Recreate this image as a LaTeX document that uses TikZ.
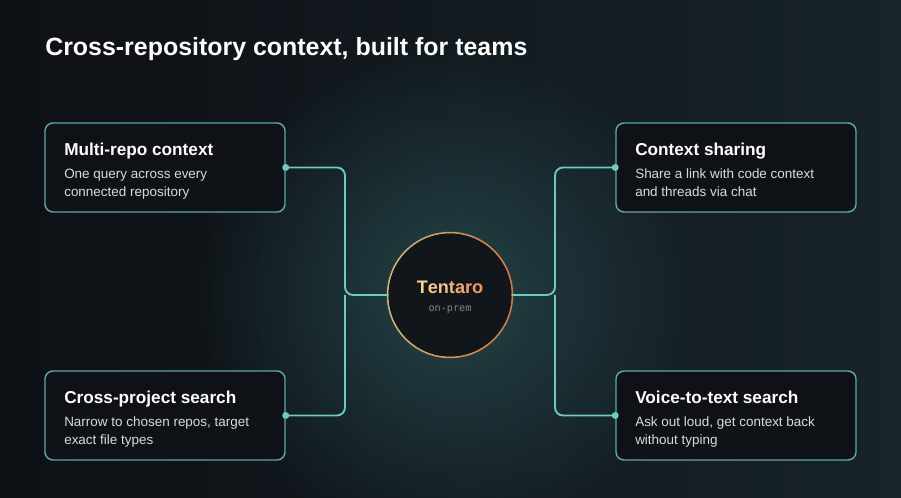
\documentclass[tikz,border=0pt]{standalone}
\usepackage{fontspec}
\setmainfont{Liberation Sans}
\setmonofont{DejaVu Sans Mono}
\usetikzlibrary{fadings}
\definecolor{bgdark}{HTML}{0D1014}
\definecolor{bgteal}{HTML}{18232A}
\definecolor{glow}{HTML}{2C5A5C}
\definecolor{cardfill}{HTML}{0E1216}
\definecolor{cardline}{HTML}{5AA9A4}
\definecolor{linkcol}{HTML}{6ECBC4}
\definecolor{hubfill}{HTML}{10161A}
\definecolor{hubleft}{HTML}{D2B27A}
\definecolor{hubright}{HTML}{D9773C}
\definecolor{nameyel}{HTML}{F6D68C}
\definecolor{nameorg}{HTML}{F28F58}
\definecolor{subtxt}{HTML}{D7DBDF}
\definecolor{monotxt}{HTML}{7F868D}
\tikzfading[name=glowfade, inner color=transparent!35, outer color=transparent!100]
\begin{document}
\begin{tikzpicture}[x=0.75pt, y=-0.75pt,
    card/.style={rectangle, draw=cardline, line width=1.1pt, fill=cardfill,
      rounded corners=6pt, minimum width=180pt, minimum height=66.75pt},
    cardtitle/.style={anchor=base west, inner sep=0pt, text=white,
      font=\fontsize{12.9}{15}\selectfont\bfseries},
    carddesc/.style={anchor=base west, inner sep=0pt, text=subtxt, align=left,
      font=\fontsize{10.1}{13.5}\selectfont},
    link/.style={draw=linkcol, line width=1.4pt, rounded corners=6pt},
    dot/.style={circle, fill=linkcol, inner sep=0pt, minimum size=5.2pt}]
    \useasboundingbox (0,0) rectangle (901,498);
    % background and glow
    \shade[left color=bgdark, right color=bgteal] (0,0) rectangle (901,498);
    \fill[glow, path fading=glowfade] (450,295) circle (250);
    \node[font=\fontsize{18.7}{22}\selectfont\bfseries, text=white, anchor=base west, inner sep=0pt]
      (title) at (45,56) {Cross-repository context, built for teams};
    % cards
    \node[card] (b1) at (165,167.5) {};
    \node[card] (b2) at (165,415.5) {};
    \node[card] (b3) at (736,167.5) {};
    \node[card] (b4) at (736,415.5) {};
    \node[cardtitle] (t1) at (64,156) {Multi-repo context};
    \node[carddesc] (d1) at (64,197) {One query across every\\connected repository};
    \node[cardtitle] (t2) at (64,404) {Cross-project search};
    \node[carddesc] (d2) at (64,445) {Narrow to chosen repos, target\\exact file types};
    \node[cardtitle] (t3) at (635,156) {Context sharing};
    \node[carddesc] (d3) at (635,197) {Share a link with code context\\and threads via chat};
    \node[cardtitle] (t4) at (635,404) {Voice-to-text search};
    \node[carddesc] (d4) at (635,445) {Ask out loud, get context back\\without typing};
    % hub
    \coordinate (hc) at (450,295);
    \shade[left color=hubleft, right color=hubright, even odd rule]
      (hc) circle (63.2) circle (61.5);
    \node[circle, fill=hubfill, minimum size=92.2pt, inner sep=0pt] (hub) at (hc) {};
    \node[font=\fontsize{13.6}{16}\selectfont\bfseries, inner sep=0pt] (name) at (450,287)
      {\textcolor{nameyel!100!nameorg}{T}\textcolor{nameyel!85!nameorg}{e}\textcolor{nameyel!70!nameorg}{n}\textcolor{nameyel!55!nameorg}{t}\textcolor{nameyel!40!nameorg}{a}\textcolor{nameyel!25!nameorg}{r}\textcolor{nameyel!10!nameorg}{o}};
    \node[font=\fontsize{7.6}{9}\ttfamily, text=monotxt, inner sep=0pt] (tag) at (450,310) {on-prem};
    % connectors
    \coordinate (jl) at (345,295);
    \coordinate (jr) at (555,295);
    \draw[link] (b1.east) -| (jl) -- (hub.west);
    \draw[link] (b2.east) -| (jl);
    \draw[link] (b3.west) -| (jr) -- (hub.east);
    \draw[link] (b4.west) -| (jr);
    \node[dot] (p1) at (b1.east) {};
    \node[dot] (p2) at (b2.east) {};
    \node[dot] (p3) at (b3.west) {};
    \node[dot] (p4) at (b4.west) {};
\end{tikzpicture}
\end{document}
